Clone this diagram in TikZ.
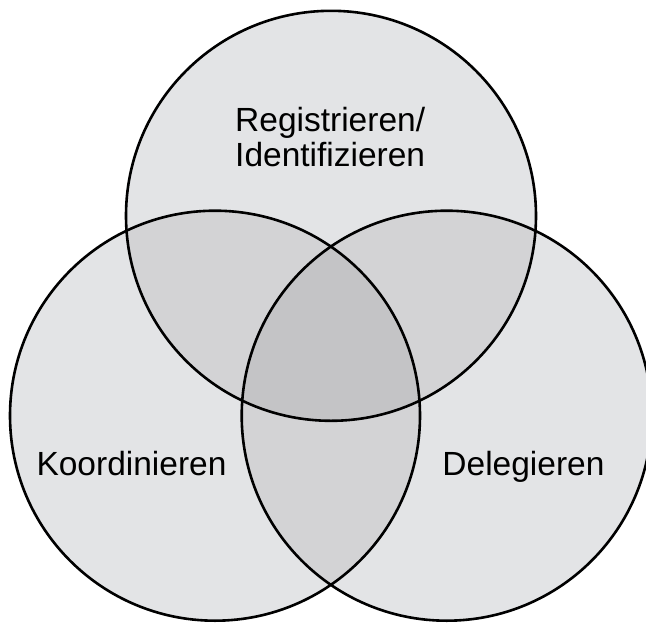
\documentclass[tikz,border=0pt]{standalone}
\usepackage{fontspec}
\setmainfont{Liberation Sans}
\definecolor{one}{HTML}{E3E4E6}
\definecolor{two}{HTML}{D3D3D5}
\definecolor{three}{HTML}{C4C4C6}
\begin{document}
\begin{tikzpicture}[x=1pt,y=-1pt,
  ring/.style={draw=black,line width=2.6pt},
  lbl/.style={inner sep=0pt,font=\fontsize{33.5}{35}\selectfont,text=black}]
\useasboundingbox (0,0) rectangle (646,622);
\clip (0,0) rectangle (646,622);
\def\R{205}
\coordinate (T) at (331,215.8);
\coordinate (L) at (215,415.7);
\coordinate (Rt) at (446.7,415.7);
% single fills
\fill[one] (T) circle (\R);
\fill[one] (L) circle (\R);
\fill[one] (Rt) circle (\R);
% pair overlaps
\begin{scope}\clip (T) circle (\R); \fill[two] (L) circle (\R); \fill[two] (Rt) circle (\R);\end{scope}
\begin{scope}\clip (L) circle (\R); \fill[two] (Rt) circle (\R);\end{scope}
% triple
\begin{scope}\clip (T) circle (\R); \clip (L) circle (\R); \fill[three] (Rt) circle (\R);\end{scope}
% outlines
\draw[ring] (T) circle (\R);
\draw[ring] (L) circle (\R);
\draw[ring] (Rt) circle (\R);
% labels
\node[lbl,anchor=base west] (reg) at (235,131) {Registrieren/};
\node[lbl,anchor=base west] (ident) at (235,166) {Identifizieren};
\node[lbl,anchor=base] (koord) at (131.5,475) {Koordinieren};
\node[lbl,anchor=base] (deleg) at (523.5,475) {Delegieren};
\end{tikzpicture}
\end{document}
